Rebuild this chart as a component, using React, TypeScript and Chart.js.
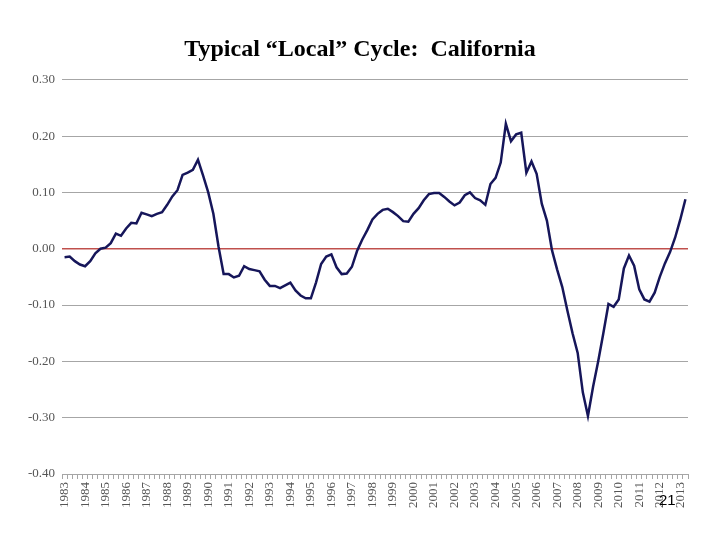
import React, { useEffect, useRef } from 'react';
import { Chart, registerables, ChartConfiguration } from 'chart.js';

Chart.register(...registerables);

// quarterly, 1983Q1 .. 2013Q2
const years = [
  1983, 1984, 1985, 1986, 1987, 1988, 1989, 1990, 1991, 1992, 1993, 1994, 1995, 1996, 1997,
  1998, 1999, 2000, 2001, 2002, 2003, 2004, 2005, 2006, 2007, 2008, 2009, 2010, 2011, 2012, 2013,
];
const quarters = ['Q1', 'Q2', 'Q3', 'Q4'];
const lastYearQuarters = 2;

const cycleValues = [
  -0.015, -0.014, -0.022, -0.028, -0.031, -0.022, -0.008, 0.000,
  0.002, 0.010, 0.027, 0.023, 0.036, 0.046, 0.045, 0.064,
  0.061, 0.058, 0.062, 0.065, 0.078, 0.093, 0.104, 0.131,
  0.135, 0.140, 0.158, 0.130, 0.100, 0.062, 0.004, -0.045,
  -0.045, -0.051, -0.048, -0.031, -0.036, -0.038, -0.040, -0.055,
  -0.066, -0.066, -0.070, -0.065, -0.060, -0.074, -0.083, -0.088,
  -0.088, -0.060, -0.027, -0.014, -0.010, -0.033, -0.045, -0.044,
  -0.032, -0.004, 0.016, 0.033, 0.052, 0.062, 0.069, 0.071,
  0.065, 0.058, 0.049, 0.048, 0.062, 0.072, 0.086, 0.097,
  0.099, 0.099, 0.092, 0.084, 0.077, 0.082, 0.095, 0.100,
  0.090, 0.086, 0.078, 0.115, 0.126, 0.153, 0.222, 0.191,
  0.203, 0.206, 0.135, 0.155, 0.133, 0.080, 0.050, -0.003,
  -0.037, -0.068, -0.110, -0.150, -0.185, -0.255, -0.297, -0.245,
  -0.200, -0.150, -0.098, -0.103, -0.090, -0.035, -0.012, -0.030,
  -0.072, -0.090, -0.094, -0.078, -0.050, -0.026, -0.006, 0.020,
  0.052, 0.088,
];

const yMin = -0.4;
const yMax = 0.3;
const yStep = 0.1;

const title = 'Typical “Local” Cycle:  California';
const pageNumber = '21';

const SERIF = "'Times New Roman', 'Liberation Serif', serif";

const labels: string[] = [];
years.forEach((y, yi) => {
  const qs = yi === years.length - 1 ? quarters.slice(0, lastYearQuarters) : quarters;
  qs.forEach(q => labels.push(`${y}${q}`));
});

const isZero = (v: number) => Math.abs(v) < 1e-9;

const CycleChart: React.FC = () => {
  const canvasRef = useRef<HTMLCanvasElement | null>(null);
  const chartRef = useRef<Chart | null>(null);

  useEffect(() => {
    const canvas = canvasRef.current;
    if (!canvas) return;
    if (chartRef.current) chartRef.current.destroy();

    const config: ChartConfiguration<'line'> = {
      type: 'line',
      data: {
        labels,
        datasets: [{
          label: 'California',
          data: cycleValues,
          borderColor: '#16165a',
          borderWidth: 2.5,
          pointRadius: 0,
          tension: 0,
        }],
      },
      options: {
        responsive: false,
        animation: false,
        layout: { padding: 0 },
        plugins: {
          legend: { display: false },
          tooltip: { enabled: false },
          title: {
            display: true,
            text: title,
            color: '#000',
            font: { family: SERIF, size: 24, weight: 'bold' },
            padding: { top: 35, bottom: 16 },
          },
        },
        scales: {
          x: {
            type: 'category',
            offset: true,
            grid: {
              display: true,
              drawOnChartArea: false,
              drawTicks: true,
              tickLength: 5,
              color: '#a6a6a6',
              offset: true,
            },
            border: { display: true, color: '#a6a6a6' },
            ticks: {
              autoSkip: false,
              minRotation: 90,
              maxRotation: 90,
              padding: 3,
              color: '#555',
              font: { family: SERIF, size: 13 },
              callback: (_v, i) => (labels[i].endsWith('Q1') ? labels[i].slice(0, 4) : ''),
            },
            afterFit: scale => { scale.height = 66; },
          },
          y: {
            min: yMin,
            max: yMax,
            grid: {
              drawTicks: false,
              color: ctx => (isZero(ctx.tick.value) ? '#c0504d' : '#a6a6a6'),
              lineWidth: ctx => (isZero(ctx.tick.value) ? 1.6 : 1),
            },
            border: { display: false },
            ticks: {
              stepSize: yStep,
              padding: 7,
              color: '#555',
              font: { family: SERIF, size: 13 },
              callback: v => (isZero(Number(v)) ? 0 : Number(v)).toFixed(2),
            },
            afterFit: scale => { scale.width = 62; },
          },
          // empty right-hand spacer so the plot ends where the slide's does
          spacer: {
            type: 'linear',
            position: 'right',
            min: yMin,
            max: yMax,
            grid: { display: false },
            border: { display: false },
            ticks: { display: false },
            afterFit: scale => { scale.width = 32; },
          },
        },
      },
    };

    chartRef.current = new Chart(canvas, config);
    return () => {
      if (chartRef.current) {
        chartRef.current.destroy();
        chartRef.current = null;
      }
    };
  }, []);

  return (
    <div style={{ position: 'fixed', left: 0, top: 0, width: 720, height: 540, background: '#fff' }}>
      <canvas ref={canvasRef} width={720} height={540} />
      <div
        style={{
          position: 'absolute',
          left: 659,
          top: 491,
          fontFamily: "Arial, 'Liberation Sans', sans-serif",
          fontSize: 15,
          color: '#000',
        }}
      >
        {pageNumber}
      </div>
    </div>
  );
};

export default function App() {
  return <CycleChart />;
}
